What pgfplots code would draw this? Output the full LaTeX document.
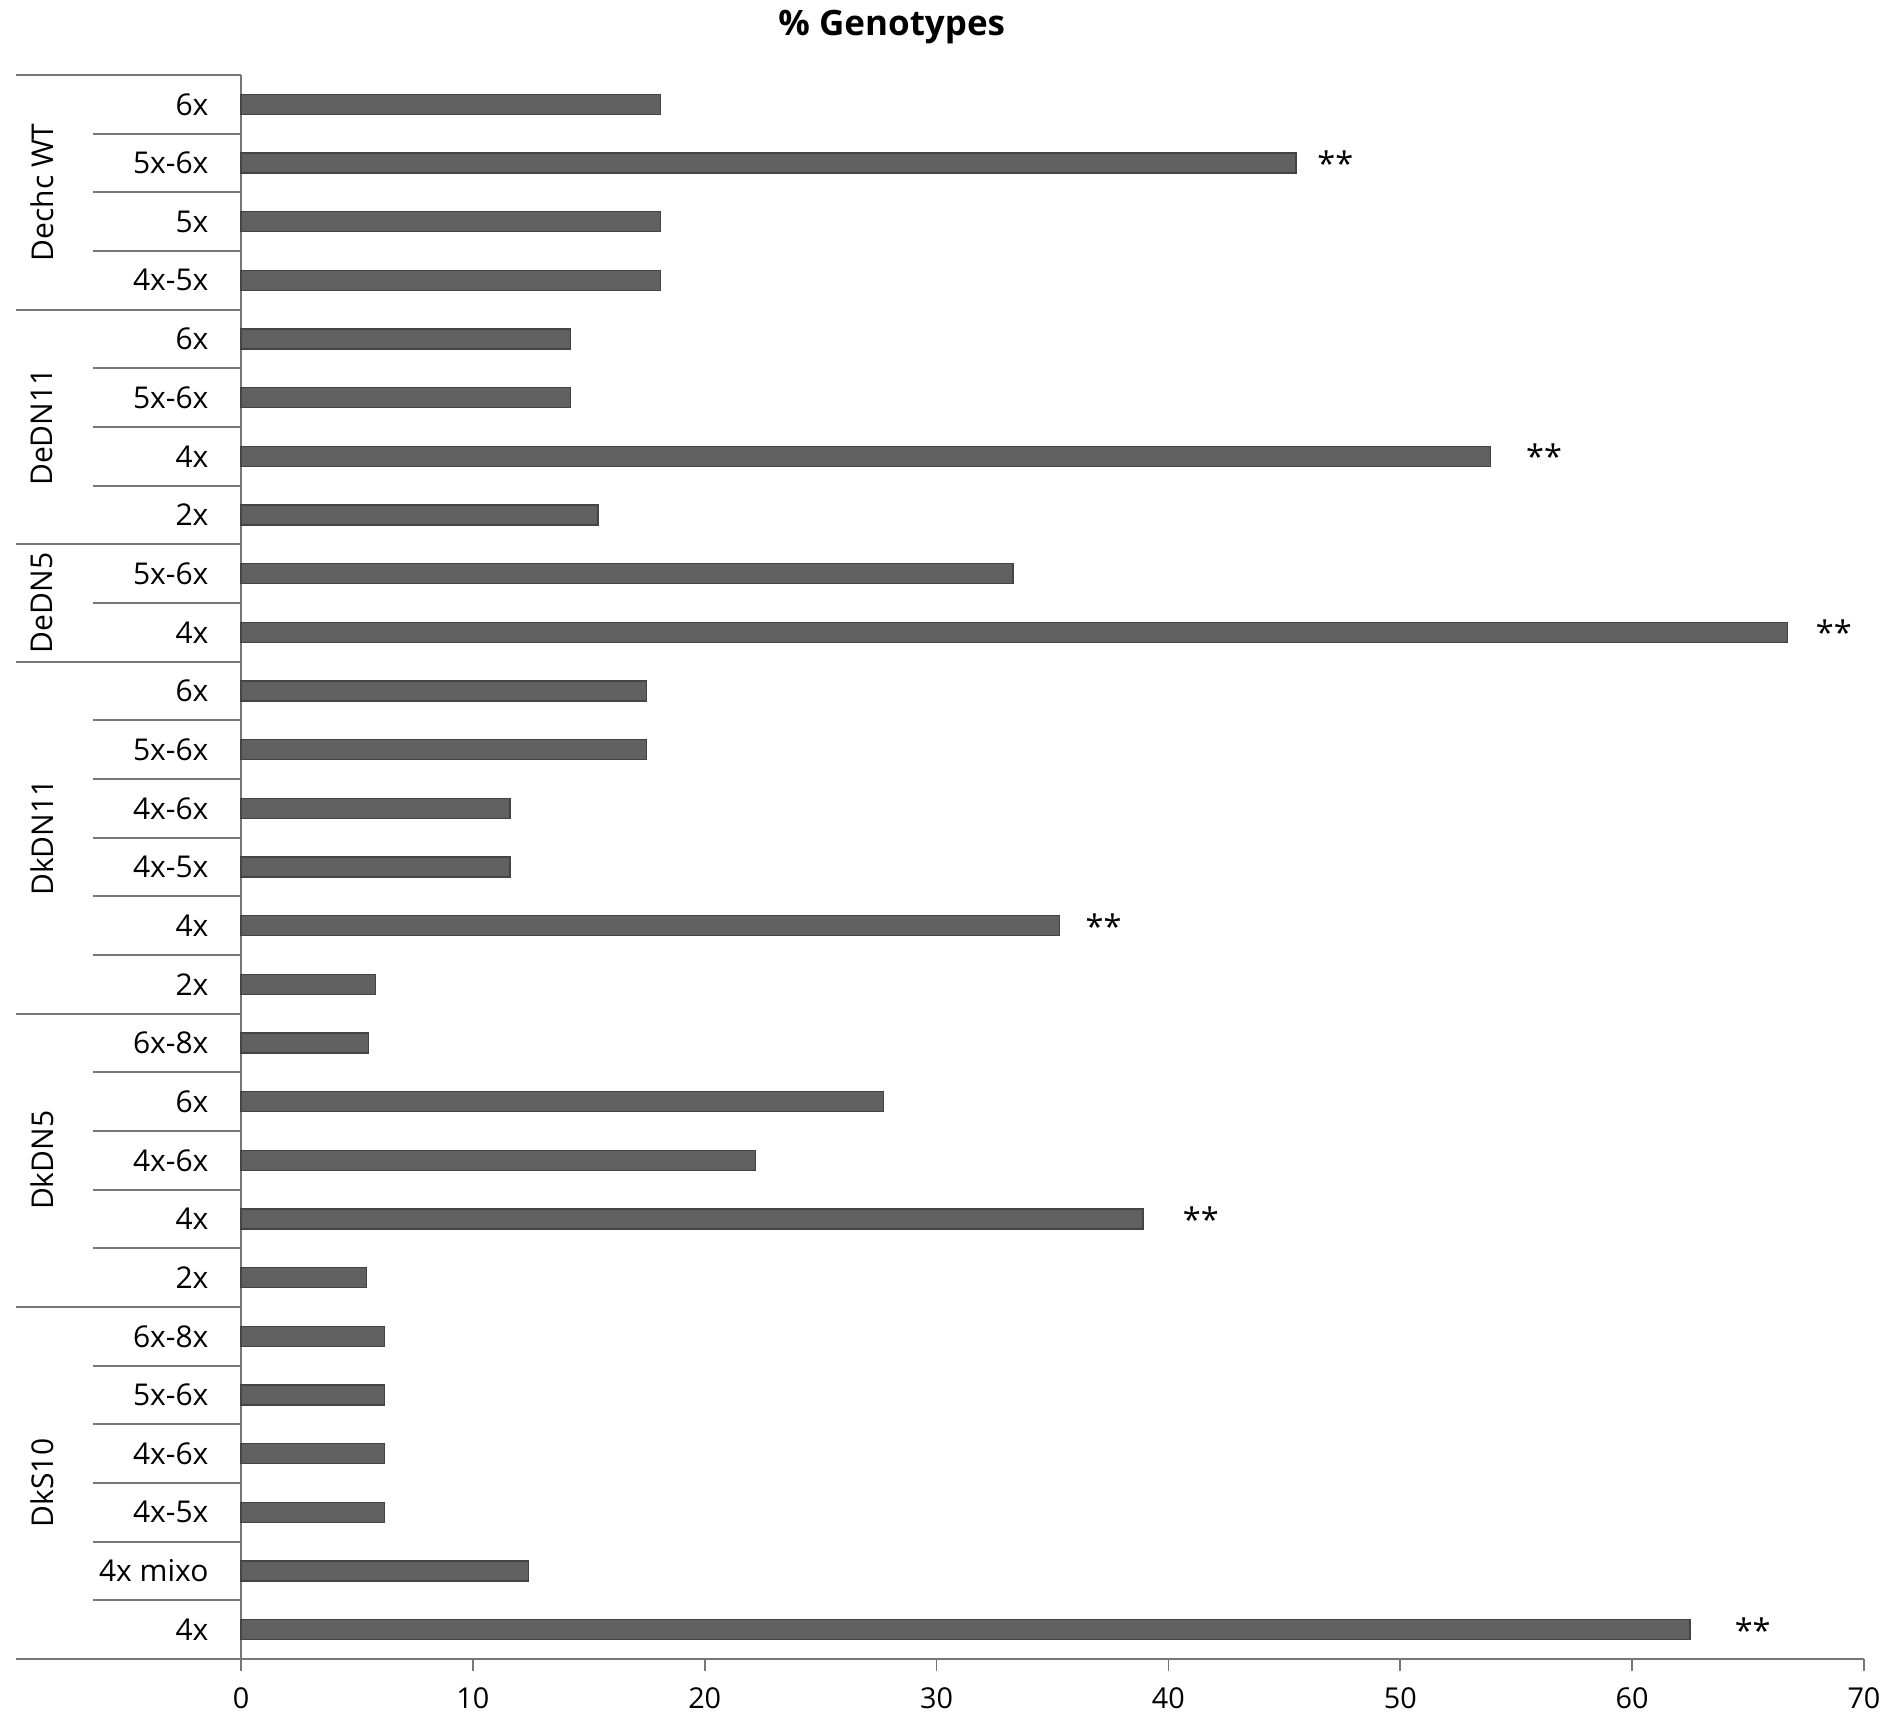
\documentclass[border=0pt]{standalone}
\usepackage{pgfplots}
\pgfplotsset{compat=1.18}
\usepackage{fontspec}
\setmainfont{Open Sans}
\definecolor{barfill}{HTML}{606060}
\definecolor{barline}{HTML}{444444}
\definecolor{axgray}{HTML}{777777}
\begin{document}
\begin{tikzpicture}
\useasboundingbox (-96.4pt,-29.2pt) rectangle (663.6pt,663.6pt);
\begin{axis}[
  at={(0,0)}, anchor=south west,
  scale only axis, width=649.2pt, height=633.6pt,
  xbar, bar width=8pt,
  xmin=0, xmax=70, ymin=-0.5, ymax=26.5,
  axis x line=bottom, axis y line=left,
  axis line style={-, axgray, line width=0.7pt},
  xtick={0,10,...,70},
  ytick={0,...,26},
  yticklabels={4x,4x mixo,4x-5x,4x-6x,5x-6x,6x-8x,
               2x,4x,4x-6x,6x,6x-8x,
               2x,4x,4x-5x,4x-6x,5x-6x,6x,
               4x,5x-6x,
               2x,4x,5x-6x,6x,
               4x-5x,5x,5x-6x,6x},
  tick align=outside,
  xtick style={axgray, line width=0.7pt},
  major tick length=5pt,
  ytick style={draw=none},
  ticklabel style={font=\fontsize{11.5}{13}\selectfont},
  yticklabel style={font=\fontsize{12}{14}\selectfont, xshift=-4.5pt},
  /pgf/number format/assume math mode=true,
  xticklabel style={yshift=-3pt},
  clip=false,
]
\addplot[fill=barfill, draw=barline, line width=0.5pt] coordinates {
  (62.5,0) (12.4,1) (6.2,2) (6.2,3) (6.2,4) (6.2,5)
  (5.4,6) (38.9,7) (22.2,8) (27.7,9) (5.5,10)
  (5.8,11) (35.3,12) (11.6,13) (11.6,14) (17.5,15) (17.5,16)
  (66.7,17) (33.3,18)
  (15.4,19) (53.9,20) (14.2,21) (14.2,22)
  (18.1,23) (18.1,24) (45.5,25) (18.1,26)
};
% separator lines within groups
\pgfplotsinvokeforeach{0.5,1.5,2.5,3.5,4.5,6.5,7.5,8.5,9.5,11.5,12.5,13.5,14.5,15.5,17.5,19.5,20.5,21.5,23.5,24.5,25.5}{
  \draw[axgray, line width=0.7pt] ([xshift=-59.2pt]axis cs:0,#1) -- (axis cs:0,#1);
}
% group separators
\pgfplotsinvokeforeach{-0.5,5.5,10.5,16.5,18.5,22.5,26.5}{
  \draw[axgray, line width=0.7pt] ([xshift=-90pt]axis cs:0,#1) -- (axis cs:0,#1);
}
% group labels
\node[rotate=90, font=\fontsize{12}{14}\selectfont] at ([xshift=-79.6pt]axis cs:0,2.5) {DkS10};
\node[rotate=90, font=\fontsize{12}{14}\selectfont] at ([xshift=-79.6pt]axis cs:0,8) {DkDN5};
\node[rotate=90, font=\fontsize{12}{14}\selectfont] at ([xshift=-79.6pt]axis cs:0,13.5) {DkDN11};
\node[rotate=90, font=\fontsize{12}{14}\selectfont] at ([xshift=-79.6pt]axis cs:0,17.5) {DeDN5};
\node[rotate=90, font=\fontsize{12}{14}\selectfont] at ([xshift=-79.6pt]axis cs:0,20.5) {DeDN11};
\node[rotate=90, font=\fontsize{12}{14}\selectfont] at ([xshift=-79.6pt]axis cs:0,24.5) {Dechc WT};
% significance stars
\node[font=\fontsize{13}{15}\selectfont] at (axis cs:47.2,25) {**};
\node[font=\fontsize{13}{15}\selectfont] at (axis cs:56.2,20) {**};
\node[font=\fontsize{13}{15}\selectfont] at (axis cs:68.7,17) {**};
\node[font=\fontsize{13}{15}\selectfont] at (axis cs:37.2,12) {**};
\node[font=\fontsize{13}{15}\selectfont] at (axis cs:41.4,7) {**};
\node[font=\fontsize{13}{15}\selectfont] at (axis cs:65.2,0) {**};
% title
\node[font=\fontsize{14}{16}\selectfont\bfseries] at ([yshift=19pt]axis cs:28.07,26.5) {\% Genotypes};
\end{axis}
\end{tikzpicture}
\end{document}
